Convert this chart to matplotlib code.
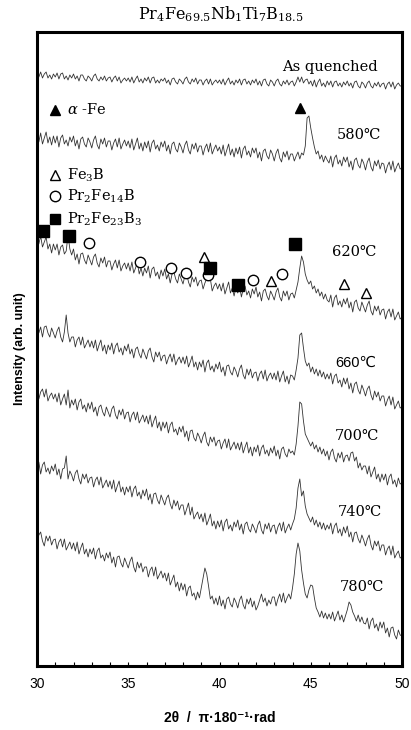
import numpy as np
import matplotlib
matplotlib.use("Agg")
import matplotlib.pyplot as plt

plt.rcParams['mathtext.fontset'] = 'dejavuserif'

# ---------------- data (intensity, arbitrary units, offset per pattern) ----------------
two_theta = np.round(np.arange(30.0, 50.0001, 0.1), 1)

as_quenched = [
    593, 589, 594, 588, 592, 594, 588, 591, 587, 592,
    589, 593, 587, 592, 593, 587, 590, 586, 591, 588,
    592, 587, 590, 585, 591, 591, 587, 585, 590, 588,
    585, 590, 592, 587, 585, 589, 586, 590, 585, 588,
    589, 584, 588, 590, 585, 589, 583, 586, 588, 585,
    588, 584, 589, 583, 587, 590, 584, 587, 583, 588,
    585, 589, 583, 588, 589, 583, 586, 583, 587, 585,
    588, 583, 586, 581, 587, 588, 584, 582, 587, 585,
    582, 587, 589, 584, 582, 587, 584, 588, 582, 586,
    586, 581, 585, 587, 582, 587, 581, 584, 586, 583,
    586, 582, 587, 581, 585, 588, 582, 585, 581, 586,
    583, 587, 581, 586, 587, 582, 585, 581, 586, 583,
    587, 581, 585, 580, 586, 587, 582, 580, 586, 584,
    580, 585, 587, 582, 580, 585, 582, 586, 581, 584,
    585, 580, 584, 589, 584, 589, 583, 586, 587, 582,
    585, 580, 586, 579, 584, 587, 580, 583, 579, 585,
    581, 585, 579, 584, 585, 580, 583, 579, 584, 581,
    585, 580, 583, 578, 584, 585, 580, 578, 584, 582,
    578, 583, 585, 580, 578, 583, 580, 584, 579, 582,
    583, 577, 582, 584, 579, 584, 577, 581, 583, 580,
    580]

t580 = [
    531, 524, 533, 522, 528, 534, 523, 529, 521, 530,
    523, 530, 519, 528, 531, 522, 526, 520, 529, 524,
    530, 520, 526, 517, 527, 529, 522, 519, 528, 524,
    518, 526, 530, 521, 517, 527, 522, 528, 519, 525,
    525, 516, 523, 527, 519, 528, 517, 522, 526, 520,
    525, 518, 527, 516, 522, 528, 517, 523, 515, 524,
    518, 525, 514, 523, 526, 517, 521, 515, 524, 519,
    525, 515, 521, 512, 522, 524, 517, 514, 523, 519,
    513, 521, 525, 516, 512, 522, 517, 523, 514, 520,
    520, 511, 518, 522, 514, 523, 512, 517, 521, 515,
    519, 512, 521, 510, 516, 522, 511, 517, 509, 518,
    512, 519, 508, 517, 520, 511, 515, 509, 518, 513,
    518, 508, 514, 505, 515, 517, 510, 507, 516, 512,
    505, 513, 517, 508, 504, 514, 509, 515, 506, 512,
    512, 505, 510, 514, 507, 513, 511, 520, 548, 550,
    538, 528, 519, 512, 515, 507, 511, 504, 510, 506,
    503, 510, 499, 508, 511, 502, 506, 500, 509, 504,
    509, 499, 505, 496, 506, 508, 501, 498, 507, 503,
    496, 504, 508, 499, 495, 505, 500, 506, 497, 503,
    502, 493, 500, 504, 496, 505, 494, 499, 503, 497,
    498]

t620 = [
    430, 422, 430, 419, 424, 429, 417, 422, 413, 422,
    416, 422, 411, 419, 421, 412, 415, 431, 417, 411,
    417, 406, 412, 402, 412, 413, 406, 402, 411, 406,
    401, 409, 412, 403, 399, 408, 403, 409, 399, 405,
    405, 396, 402, 406, 398, 406, 395, 400, 403, 397,
    403, 395, 404, 393, 398, 404, 392, 398, 390, 398,
    393, 400, 388, 397, 399, 390, 394, 387, 396, 390,
    397, 387, 392, 383, 392, 394, 387, 383, 392, 387,
    382, 390, 393, 384, 379, 389, 384, 389, 380, 385,
    386, 377, 383, 387, 391, 387, 375, 380, 383, 377,
    382, 375, 383, 372, 378, 384, 373, 378, 370, 379,
    373, 380, 369, 377, 380, 371, 375, 368, 377, 372,
    379, 369, 374, 365, 375, 377, 370, 366, 375, 371,
    366, 374, 378, 369, 365, 375, 370, 375, 366, 372,
    373, 368, 376, 384, 398, 410, 404, 392, 386, 382,
    385, 377, 380, 373, 377, 370, 374, 367, 372, 366,
    364, 371, 359, 368, 371, 361, 365, 359, 367, 362,
    368, 358, 364, 354, 364, 366, 358, 355, 364, 359,
    354, 361, 365, 355, 351, 360, 355, 360, 351, 356,
    357, 347, 354, 357, 349, 357, 346, 350, 354, 347,
    349]

t660 = [
    344, 333, 339, 329, 339, 340, 333, 329, 338, 333,
    328, 335, 339, 329, 324, 334, 351, 333, 324, 329,
    329, 319, 326, 329, 321, 329, 318, 322, 326, 319,
    325, 318, 326, 315, 321, 326, 315, 321, 312, 321,
    316, 323, 312, 320, 323, 314, 318, 311, 320, 315,
    322, 312, 317, 308, 317, 319, 312, 308, 317, 312,
    307, 315, 318, 309, 304, 314, 309, 314, 305, 310,
    311, 302, 308, 312, 304, 312, 301, 306, 309, 303,
    309, 302, 310, 299, 304, 310, 299, 304, 296, 304,
    299, 306, 294, 303, 306, 296, 300, 294, 302, 297,
    304, 294, 299, 290, 300, 301, 294, 291, 299, 295,
    289, 297, 301, 291, 287, 297, 291, 297, 288, 293,
    294, 285, 292, 295, 287, 296, 285, 290, 293, 287,
    293, 286, 295, 284, 290, 295, 284, 290, 282, 291,
    290, 286, 296, 308, 331, 333, 318, 305, 300, 303,
    294, 299, 292, 297, 290, 296, 289, 294, 287, 292,
    287, 293, 282, 290, 292, 283, 286, 279, 288, 282,
    288, 277, 283, 273, 282, 284, 276, 272, 281, 276,
    270, 277, 280, 271, 266, 275, 269, 274, 265, 270,
    270, 260, 266, 270, 261, 269, 257, 261, 265, 258,
    259]

t700 = [
    277, 267, 274, 277, 269, 277, 265, 270, 273, 267,
    272, 264, 273, 261, 267, 272, 261, 276, 258, 266,
    261, 267, 256, 264, 267, 257, 261, 254, 263, 257,
    264, 254, 259, 250, 259, 261, 254, 250, 259, 254,
    249, 257, 260, 251, 247, 256, 251, 257, 247, 253,
    254, 244, 251, 254, 246, 254, 243, 247, 251, 244,
    250, 242, 251, 239, 245, 250, 238, 244, 235, 244,
    238, 244, 233, 241, 244, 234, 237, 231, 239, 234,
    240, 229, 235, 225, 235, 236, 228, 225, 233, 229,
    223, 230, 234, 224, 220, 229, 224, 229, 220, 225,
    226, 217, 223, 227, 218, 227, 216, 220, 224, 217,
    223, 216, 224, 213, 219, 224, 213, 219, 210, 219,
    214, 221, 210, 218, 221, 212, 216, 210, 218, 213,
    220, 210, 216, 207, 217, 219, 212, 209, 217, 213,
    215, 211, 222, 240, 264, 262, 245, 232, 228, 224,
    220, 224, 217, 221, 214, 219, 212, 217, 210, 215,
    206, 214, 217, 208, 204, 213, 208, 214, 204, 210,
    211, 205, 213, 214, 205, 209, 198, 203, 196, 200,
    200, 192, 200, 189, 194, 199, 187, 192, 184, 192,
    186, 192, 181, 189, 192, 182, 186, 179, 188, 182,
    183]

t740 = [
    197, 204, 192, 201, 204, 194, 198, 192, 200, 195,
    202, 191, 197, 187, 197, 198, 210, 187, 195, 191,
    185, 193, 196, 187, 182, 192, 187, 192, 183, 188,
    189, 179, 186, 189, 181, 189, 178, 182, 186, 179,
    185, 177, 186, 174, 180, 185, 174, 179, 171, 179,
    174, 180, 169, 177, 180, 170, 174, 167, 176, 170,
    177, 166, 172, 162, 172, 173, 166, 162, 171, 166,
    161, 168, 171, 162, 157, 166, 160, 165, 156, 161,
    161, 151, 157, 163, 151, 159, 147, 151, 154, 147,
    152, 144, 153, 141, 146, 152, 140, 145, 137, 145,
    139, 146, 135, 144, 147, 137, 141, 135, 144, 139,
    146, 136, 142, 132, 142, 144, 137, 134, 142, 138,
    133, 141, 145, 136, 132, 142, 137, 143, 134, 140,
    141, 132, 139, 143, 135, 144, 133, 138, 142, 136,
    142, 147, 158, 178, 187, 170, 175, 160, 152, 148,
    144, 149, 141, 146, 139, 144, 137, 143, 136, 141,
    137, 143, 132, 140, 143, 133, 137, 130, 139, 133,
    140, 129, 134, 124, 133, 134, 127, 123, 131, 126,
    120, 127, 131, 121, 116, 125, 120, 125, 115, 121,
    121, 111, 117, 120, 111, 120, 108, 112, 115, 108,
    109]

t780 = [
    123, 131, 134, 125, 120, 130, 125, 130, 121, 126,
    127, 117, 124, 127, 119, 127, 116, 120, 124, 117,
    123, 115, 124, 112, 118, 123, 112, 117, 109, 117,
    112, 118, 107, 115, 118, 108, 111, 105, 113, 108,
    114, 103, 109, 99, 109, 110, 103, 99, 108, 103,
    98, 105, 109, 99, 94, 104, 98, 103, 94, 99,
    99, 89, 96, 99, 90, 99, 87, 91, 95, 88,
    93, 85, 93, 81, 86, 91, 79, 84, 75, 83,
    76, 82, 70, 78, 80, 70, 73, 66, 74, 68,
    78, 88, 98, 92, 80, 67, 70, 62, 68, 61,
    70, 60, 66, 57, 67, 69, 62, 59, 68, 64,
    58, 66, 70, 61, 57, 67, 62, 68, 59, 65,
    56, 60, 66, 72, 64, 68, 60, 66, 62, 69,
    69, 60, 67, 72, 64, 73, 63, 68, 72, 67,
    78, 92, 112, 123, 115, 96, 83, 72, 68, 76,
    81, 80, 68, 58, 54, 49, 55, 48, 53, 47,
    52, 47, 54, 45, 50, 55, 46, 51, 44, 50,
    56, 64, 61, 54, 50, 45, 51, 44, 49, 43,
    42, 48, 37, 45, 48, 38, 42, 35, 44, 38,
    44, 33, 38, 29, 38, 39, 31, 27, 36, 31,
    30]

traces = [as_quenched, t580, t620, t660, t700, t740, t780]
for tr in traces:
    assert len(tr) == len(two_theta)

trace_labels = ["As quenched", "580\u2103", "620\u2103", "660\u2103",
                "700\u2103", "740\u2103", "780\u2103"]
label_x = [46.05, 47.64, 47.37, 47.48, 47.53, 47.7, 47.81]
label_y = [599, 531, 414, 303, 230, 154, 79]

# phase markers (two-theta, height)
afe_x, afe_y = [44.41], [558]
fe3b_x = [39.15, 42.82, 46.82, 48.03]
fe3b_y = [409, 385, 382, 373]
pr2fe14b_x = [32.85, 35.64, 37.34, 38.16, 39.37, 41.84, 43.42]
pr2fe14b_y = [423, 404, 398, 393, 391, 386, 392]
pr2fe23b3_x = [30.33, 31.75, 39.48, 41.01, 44.14]
pr2fe23b3_y = [435, 430, 398, 381, 422]

legend_labels = [r"$\alpha$ -Fe", r"Fe$_3$B", r"Pr$_2$Fe$_{14}$B", r"Pr$_2$Fe$_{23}$B$_3$"]
legend_y = [556, 491, 470, 447]

# ---------------- figure ----------------
fig = plt.figure(figsize=(4.11, 7.30), dpi=100)
ax = fig.add_axes([37 / 411, 64 / 730, 365 / 411, 634 / 730])

for tr in traces:
    ax.plot(two_theta, tr, color='#333333', lw=0.6)

serif = ['DejaVu Serif', 'DejaVu Sans', 'Noto Sans CJK JP']
sans = ['Liberation Sans', 'DejaVu Sans', 'Noto Sans CJK JP']
for i, (lab, lx, ly) in enumerate(zip(trace_labels, label_x, label_y)):
    fam = sans if lab.startswith("660") else serif
    ax.text(lx, ly, lab, ha='center', va='center', fontsize=10.5, family=fam)

ms = 7.5
ax.plot(afe_x, afe_y, '^', color='black', ms=ms, clip_on=False)
ax.plot(fe3b_x, fe3b_y, '^', mfc='white', mec='black', mew=1.0, ms=ms, ls='none')
ax.plot(pr2fe14b_x, pr2fe14b_y, 'o', mfc='white', mec='black', mew=1.0, ms=ms, ls='none')
ax.plot(pr2fe23b3_x, pr2fe23b3_y, 's', color='black', ms=ms + 0.5, ls='none', clip_on=False)

# in-plot legend
leg_styles = [dict(marker='^', color='black'),
              dict(marker='^', mfc='white', mec='black', mew=1.0),
              dict(marker='o', mfc='white', mec='black', mew=1.0),
              dict(marker='s', color='black')]
for lab, ly, st in zip(legend_labels, legend_y, leg_styles):
    ax.plot([30.99], [ly], ls='none', ms=ms, **st)
    ax.text(31.64, ly, lab, ha='left', va='center', fontsize=10.5, family=serif)

ax.set_xlim(30, 50)
ax.set_ylim(0, 634)
ax.set_xticks([30, 35, 40, 45, 50])
ax.set_xticks(np.arange(30, 51, 1), minor=True)
ax.tick_params(axis='x', which='both', direction='in', length=3, width=0.8, top=False)
ax.tick_params(axis='x', which='major', pad=8, labelsize=10)
ax.set_yticks([])
for lbl in ax.get_xticklabels():
    lbl.set_family(['Liberation Sans', 'DejaVu Sans'])
for sp in ax.spines.values():
    sp.set_linewidth(2.2)

ax.set_xlabel('2\u03b8  /  \u03c0\u00b7180\u207b\u00b9\u00b7rad', fontsize=10,
              fontweight='bold', family=['Liberation Sans', 'DejaVu Sans'], labelpad=14)
ax.set_ylabel('Intensity (arb. unit)', fontsize=9, fontweight='bold',
              family=['Liberation Sans', 'DejaVu Sans'], labelpad=8)

fig.text(221 / 411, 1 - 14 / 730, r"Pr$_4$Fe$_{69.5}$Nb$_1$Ti$_7$B$_{18.5}$",
         ha='center', va='center', fontsize=11.5, family=serif)

fig.savefig('out.png', dpi=100)
